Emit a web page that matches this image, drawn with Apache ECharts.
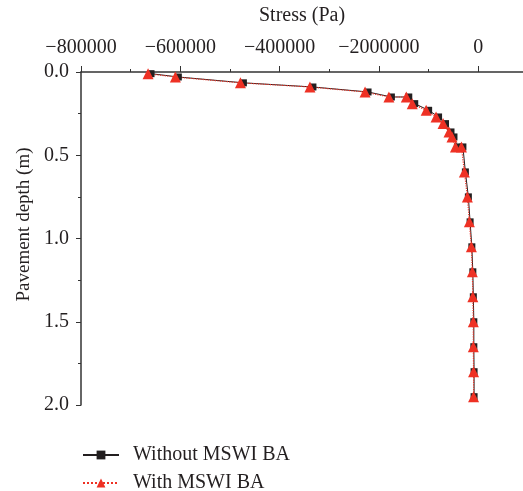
<!DOCTYPE html>
<html>
<head>
<meta charset="utf-8">
<script src="https://cdn.jsdelivr.net/npm/echarts@6/dist/echarts.min.js"></script>
<style>
  html, body { margin: 0; padding: 0; background: #fff; }
  #chart { width: 523px; height: 491px; }
</style>
</head>
<body>
<div id="chart"></div>
<script>
// depth (m) of each sample point
var depths = [0.01, 0.03, 0.065, 0.09, 0.12, 0.15, 0.15, 0.19, 0.23, 0.27, 0.31, 0.36, 0.39, 0.45, 0.45,
              0.6, 0.75, 0.9, 1.05, 1.2, 1.35, 1.5, 1.65, 1.8, 1.95];
// stress (Pa)
var withoutBA = [-659000, -604000, -473000, -333000, -222000, -175000, -140000, -128000, -100000, -80000,
                 -66000, -55000, -49000, -42000, -31000, -26000, -20000, -16500, -13000, -11000, -10000,
                 -9000, -9000, -8500, -8500];
var withBA = [-665000, -610000, -479000, -339000, -228000, -180000, -145000, -133000, -105000, -85000,
              -71000, -59000, -53000, -46000, -34000, -28000, -22000, -18000, -14000, -12000, -11000,
              -10000, -10000, -9500, -9500];
// tick labels as printed on the original (including its typo)
var xTickValues = [-800000, -600000, -400000, -200000, 0];
var xTickLabels = ["\u2212800000", "\u2212600000", "\u2212400000", "\u22122000000", "0"];
var yTickLabels = ["0.0", "0.5", "1.0", "1.5", "2.0"];

function pairs(xs){
	var out = [];
	for(var i = 0; i < xs.length; i++){
		out.push([xs[i], depths[i]]);
	}
	return out;
}

var font = "'Liberation Serif', 'DejaVu Serif', serif";
var axisColor = '#333';
var textColor = '#231f20';

function legendRow(name, top){
	return {
		left: 77,
		top: top,
		itemWidth: 36,
		itemHeight: 11,
		itemGap: 10,
		textStyle: { fontFamily: font, fontSize: 20, color: textColor, padding: [0, 0, 0, 9] },
		data: [name]
	};
}

var mychart = echarts.init(document.getElementById('chart'));
var option = {
	animation: false,
	grid: { left: 81, top: 72, right: 0, bottom: 86 },
	legend: [legendRow('Without MSWI BA', 440), legendRow('With MSWI BA', 468)],
	xAxis: {
		type: 'value',
		position: 'top',
		min: -800000,
		max: 90000,
		interval: 200000,
		name: 'Stress (Pa)',
		nameLocation: 'middle',
		nameGap: 46,
		nameTextStyle: { fontFamily: font, fontSize: 20, color: textColor },
		axisLine: { show: true, lineStyle: { color: axisColor, width: 1.5 } },
		axisTick: { show: true, inside: false, length: 6, lineStyle: { color: axisColor } },
		minorTick: { show: true, splitNumber: 2, length: 3, lineStyle: { color: axisColor } },
		splitLine: { show: false },
		axisLabel: {
			fontFamily: font, fontSize: 20, color: textColor, margin: 14,
			showMaxLabel: false,
			formatter: function(v){
				var k = xTickValues.indexOf(v);
				return k >= 0 ? xTickLabels[k] : '';
			}
		}
	},
	yAxis: {
		type: 'value',
		inverse: true,
		min: 0,
		max: 2,
		interval: 0.5,
		name: 'Pavement depth (m)',
		nameLocation: 'middle',
		nameGap: 47,
		nameTextStyle: { fontFamily: font, fontSize: 19, color: textColor, padding: [0, 0, 0, 28] },
		axisLine: { show: true, onZero: false, lineStyle: { color: axisColor, width: 1.5 } },
		axisTick: { show: true, inside: false, length: 5, lineStyle: { color: axisColor } },
		minorTick: { show: true, splitNumber: 2, length: 3, lineStyle: { color: axisColor } },
		splitLine: { show: false },
		axisLabel: {
			fontFamily: font, fontSize: 20, color: textColor, margin: 12,
			formatter: function(v){
				var k = Math.round(v / 0.5);
				return yTickLabels[k] || '';
			}
		}
	},
	series: [
		{
			name: 'Without MSWI BA',
			type: 'line',
			data: pairs(withoutBA),
			symbol: 'rect',
			symbolSize: 7,
			itemStyle: { color: textColor },
			lineStyle: { color: textColor, width: 1 }
		},
		{
			name: 'With MSWI BA',
			type: 'line',
			data: pairs(withBA),
			symbol: 'triangle',
			symbolSize: 11,
			itemStyle: { color: '#ee3124' },
			lineStyle: { color: '#ee3124', width: 1.2, type: 'dotted' }
		}
	]
};
mychart.setOption(option);
</script>
</body>
</html>
